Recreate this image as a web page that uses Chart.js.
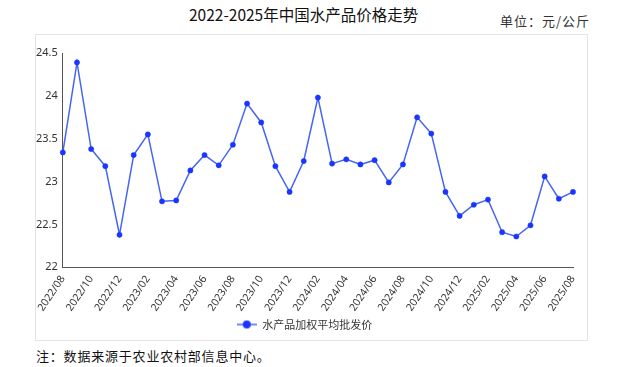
<!DOCTYPE html>
<html><head><meta charset="utf-8">
<script src="https://cdn.jsdelivr.net/npm/chart.js@4.4.0/dist/chart.umd.min.js"></script>
<style>
html,body{margin:0;padding:0;background:#fff;width:620px;height:367px;overflow:hidden;font-family:"Noto Sans CJK SC","Noto Sans",sans-serif;}
#title{position:absolute;left:189px;top:3px;font-size:15.5px;color:#111;white-space:nowrap;}
#unit{position:absolute;left:500px;top:11px;font-size:13px;letter-spacing:1px;color:#333;white-space:nowrap;}
#box{position:absolute;left:35px;top:34px;width:551px;height:305px;border:1px solid #e4e4e4;}
#note{position:absolute;left:36px;top:346px;font-size:13px;letter-spacing:0.8px;color:#111;white-space:nowrap;}
canvas{display:block;}
</style></head><body>
<div id="title">2022-2025年中国水产品价格走势</div>
<div id="unit">单位：元/公斤</div>
<div id="box"><canvas id="c" width="551" height="305"></canvas></div>
<div id="note">注：数据来源于农业农村部信息中心。</div>
<script>
const months = ["2022/08","2022/09","2022/10","2022/11","2022/12","2023/01","2023/02","2023/03","2023/04","2023/05","2023/06","2023/07","2023/08","2023/09","2023/10","2023/11","2023/12","2024/01","2024/02","2024/03","2024/04","2024/05","2024/06","2024/07","2024/08","2024/09","2024/10","2024/11","2024/12","2025/01","2025/02","2025/03","2025/04","2025/05","2025/06","2025/07","2025/08"];
const prices = [23.34,24.39,23.38,23.18,22.38,23.31,23.55,22.77,22.78,23.13,23.31,23.19,23.43,23.91,23.69,23.18,22.88,23.24,23.98,23.21,23.26,23.20,23.25,22.99,23.20,23.75,23.56,22.88,22.60,22.73,22.79,22.41,22.36,22.49,23.06,22.80,22.88];
const seriesName = "水产品加权平均批发价";
const yTicks = [22,22.5,23,23.5,24,24.5];

const lineColor = '#4565f4';
const dotColor = '#1a35ff';

// legend marker: short line with a dot
const marker = document.createElement('canvas');
marker.width = 20; marker.height = 10;
(function(){
  const g = marker.getContext('2d');
  g.strokeStyle = lineColor; g.lineWidth = 1.5;
  g.beginPath(); g.moveTo(0,5); g.lineTo(20,5); g.stroke();
  g.fillStyle = dotColor;
  g.beginPath(); g.arc(10,5,4,0,Math.PI*2); g.fill();
})();

new Chart(document.getElementById('c'), {
  type: 'line',
  data: { labels: months, datasets: [{
    label: seriesName, data: prices,
    borderColor: lineColor, backgroundColor: dotColor,
    pointBackgroundColor: dotColor, pointBorderColor: dotColor,
    borderWidth: 1.5, pointRadius: 2.6, pointBorderWidth: 0.5, tension: 0
  }]},
  options: {
    responsive: false, animation: false,
    layout: { padding: { left: 0, right: 14, top: 18, bottom: 0 } },
    plugins: {
      legend: { position: 'bottom', labels: {
        usePointStyle: true, pointStyleWidth: 20, padding: 4.5,
        generateLabels: chart => [{ text: seriesName, pointStyle: marker, fontColor: '#333', lineWidth: 0, strokeStyle: 'rgba(0,0,0,0)', fillStyle: 'rgba(0,0,0,0)', datasetIndex: 0 }],
        font: { size: 11, family: '"Noto Sans CJK SC"' }, color: '#333' } },
      tooltip: { enabled: false }
    },
    scales: {
      x: {
        grid: { display: false, drawTicks: true, tickLength: 5, tickColor: '#555' },
        border: { color: '#555', width: 1 },
        ticks: { autoSkip: false, maxRotation: 56, minRotation: 56, padding: 1, color: '#333', font: { size: 10.5, family: '"Noto Sans"' },
          callback: function(v, i) { return i % 2 === 0 ? months[i] : ''; } }
      },
      y: {
        min: 22, max: 24.5,
        afterBuildTicks: ax => { ax.ticks = yTicks.map(v => ({ value: v })); },
        grid: { display: false, drawTicks: true, tickLength: 5, tickColor: '#555' },
        border: { color: '#555', width: 1 },
        ticks: { padding: 0, color: '#333', font: { size: 11, family: '"Noto Sans"' }, callback: v => String(v) }
      }
    }
  }
});
</script>
</body></html>
